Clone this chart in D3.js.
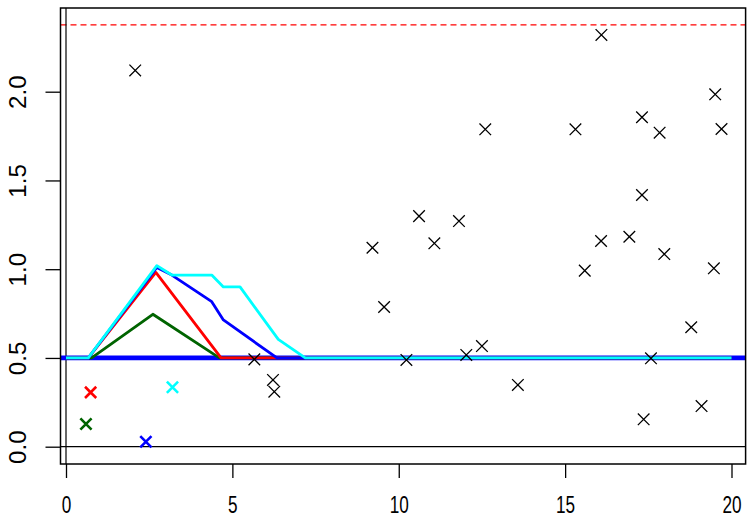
<!DOCTYPE html>
<html>
<head>
<meta charset="utf-8">
<script src="https://cdn.jsdelivr.net/npm/d3@7"></script>
<style>
  body { margin: 0; background: #ffffff; }
  svg { display: block; font-family: "Liberation Sans", Arial, sans-serif; }
</style>
</head>
<body>
<div id="chart"></div>
<script>
// Scattered observations (black crosses).
var pointX = [2.08, 5.66, 6.22, 6.26, 9.21, 9.56, 10.23, 10.61, 11.07, 11.81, 12.03, 12.50, 12.60, 13.58,
              15.31, 15.59, 16.09, 16.08, 16.93, 17.31, 17.31, 17.36, 17.58, 17.84, 17.98, 18.79, 19.10,
              19.47, 19.51, 19.70];
var pointY = [2.12, 0.492, 0.376, 0.310, 1.121, 0.787, 0.489, 1.299, 1.146, 1.271, 0.517, 0.567, 1.788, 0.348,
              1.788, 0.992, 2.320, 1.159, 1.183, 1.418, 1.856, 0.154, 0.498, 1.769, 1.085, 0.673, 0.229,
              1.005, 1.985, 1.790];

// Highlighted crosses, one per curve.
var markColors = ["#006400", "#ff0000", "#0000ff", "#00ffff"];
var markX = [0.60, 0.74, 2.40, 3.20];
var markY = [0.128, 0.306, 0.028, 0.335];

// Curves (breakpoints), drawn in this order.
var greenX = [0, 0.77, 2.61, 4.61, 20];
var greenY = [0.5, 0.5, 0.746, 0.5, 0.5];
var redX = [0, 0.67, 2.70, 4.66, 20];
var redY = [0.5, 0.5, 0.982, 0.5, 0.5];
var blueX = [0, 0.67, 2.73, 3.18, 4.38, 4.73, 6.34, 20];
var blueY = [0.5, 0.5, 1.01, 0.967, 0.817, 0.714, 0.5, 0.5];
var cyanX = [0, 0.67, 2.73, 3.18, 4.38, 4.73, 5.23, 6.38, 7.19, 20];
var cyanY = [0.5, 0.5, 1.02, 0.967, 0.967, 0.90, 0.90, 0.605, 0.5, 0.5];

var baseLevel = 0.5;
var limitLevel = 2.376;

var xTicks = [0, 5, 10, 15, 20];
var yTicks = [0, 0.5, 1, 1.5, 2];

var width = 747;
var height = 518;

// 1. Scales and plot box.
var box = {left: 60.5, top: 8, right: 745.6, bottom: 464};
var xScale = d3.scaleLinear().domain([0, 20]).range([66, 731.5]);
var yScale = d3.scaleLinear().domain([0, 2]).range([446.7, 91.7]);

var svg = d3.select("#chart").append("svg")
  .attr("width", width)
  .attr("height", height);

svg.append("defs").append("clipPath").attr("id", "plotClip")
  .append("rect")
  .attr("x", box.left).attr("y", box.top)
  .attr("width", box.right - box.left).attr("height", box.bottom - box.top);

var plot = svg.append("g").attr("clip-path", "url(#plotClip)");

// 2. Reference lines.
plot.append("line")
  .attr("x1", box.left).attr("x2", box.right)
  .attr("y1", yScale(limitLevel)).attr("y2", yScale(limitLevel))
  .attr("stroke", "#ff0000").attr("stroke-width", 1.2)
  .attr("stroke-dasharray", "6,4");

plot.append("line")
  .attr("x1", xScale(0)).attr("x2", xScale(0))
  .attr("y1", box.top).attr("y2", box.bottom)
  .attr("stroke", "black").attr("stroke-width", 1.2);

plot.append("line")
  .attr("x1", box.left).attr("x2", box.right)
  .attr("y1", yScale(0)).attr("y2", yScale(0))
  .attr("stroke", "black").attr("stroke-width", 1.2);

plot.append("line")
  .attr("x1", box.left).attr("x2", box.right)
  .attr("y1", yScale(baseLevel)).attr("y2", yScale(baseLevel))
  .attr("stroke", "#0000ff").attr("stroke-width", 4.8);

// 3. Curves.
var line = d3.line()
  .x(function (d) { return xScale(d[0]); })
  .y(function (d) { return yScale(d[1]); });

var curves = [
  {xs: greenX, ys: greenY, color: "#006400"},
  {xs: redX, ys: redY, color: "#ff0000"},
  {xs: blueX, ys: blueY, color: "#0000ff"},
  {xs: cyanX, ys: cyanY, color: "#00ffff"}
];
curves.forEach(function (c) {
  plot.append("path")
    .datum(d3.zip(c.xs, c.ys))
    .attr("d", line)
    .attr("fill", "none")
    .attr("stroke", c.color)
    .attr("stroke-width", 2.8)
    .attr("stroke-linejoin", "round");
});

// 4. Crosses.
function cross(sel, r) {
  return sel.attr("d", function (d) {
    var cx = xScale(d[0]), cy = yScale(d[1]);
    return "M" + (cx - r) + "," + (cy - r) + "L" + (cx + r) + "," + (cy + r) +
           "M" + (cx - r) + "," + (cy + r) + "L" + (cx + r) + "," + (cy - r);
  });
}

cross(plot.selectAll(".pt").data(d3.zip(pointX, pointY)).enter().append("path").attr("class", "pt"), 5.8)
  .attr("stroke", "black").attr("stroke-width", 1.3).attr("fill", "none");

cross(plot.selectAll(".mk").data(d3.zip(markX, markY, markColors)).enter().append("path").attr("class", "mk"), 5.6)
  .attr("stroke", function (d) { return d[2]; }).attr("stroke-width", 2.6).attr("fill", "none");

// 5. Box and axes.
svg.append("rect")
  .attr("x", box.left).attr("y", box.top)
  .attr("width", box.right - box.left).attr("height", box.bottom - box.top)
  .attr("fill", "none").attr("stroke", "black").attr("stroke-width", 1.5);

var xAxis = d3.axisBottom(xScale).tickValues(xTicks).tickSize(14).tickPadding(18.3)
  .tickFormat(d3.format("d"));
var gx = svg.append("g")
  .attr("transform", "translate(0," + box.bottom + ")")
  .call(xAxis);
gx.select(".domain").remove();
gx.selectAll("line").attr("stroke-width", 1.3);
gx.selectAll("text")
  .attr("font-size", 23.5)
  .attr("fill", "black")
  .attr("font-family", "Liberation Sans, Arial, sans-serif")
  .attr("transform", "scale(0.73,1)");

var yAxis = d3.axisLeft(yScale).tickValues(yTicks).tickSize(15)
  .tickFormat(d3.format(".1f"));
var gy = svg.append("g")
  .attr("transform", "translate(" + box.left + ",0)")
  .call(yAxis);
gy.select(".domain").remove();
gy.selectAll("line").attr("stroke-width", 1.3);
gy.selectAll("text")
  .attr("x", null).attr("dy", null)
  .attr("font-size", 24)
  .attr("fill", "black")
  .attr("font-family", "Liberation Sans, Arial, sans-serif")
  .attr("text-anchor", "middle")
  .attr("transform", "translate(" + (25.5 - box.left) + ",0) rotate(-90)");
</script>
</body>
</html>
